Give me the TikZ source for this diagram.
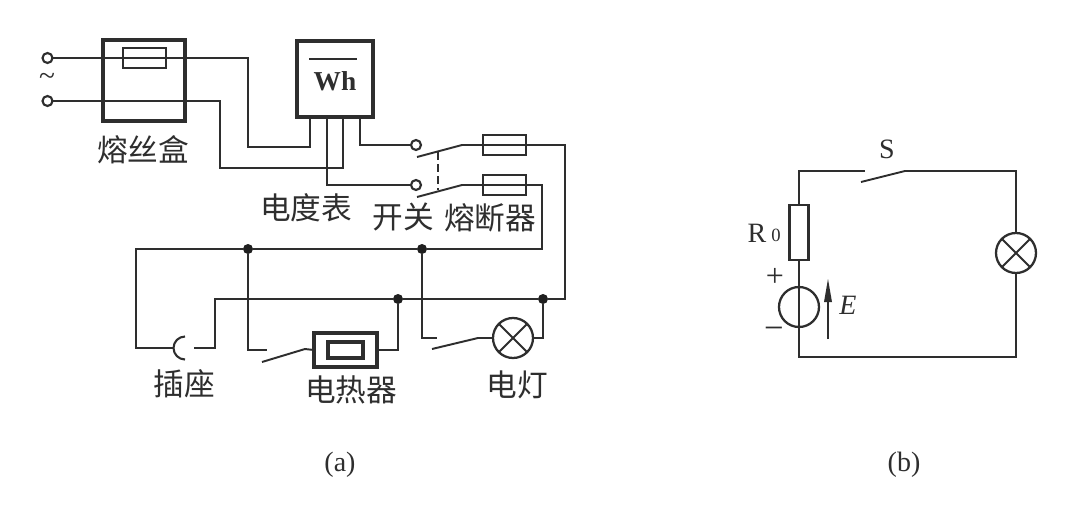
\documentclass[tikz,border=0pt]{standalone}
\usepackage{fontspec}
\setmainfont{Liberation Serif}
\newfontfamily\cjkf{Noto Sans CJK SC}
\definecolor{ink}{HTML}{2E2E2E}
\tikzset{
  wire/.style={draw=ink,line width=1.55pt,line join=miter},
  thick box/.style={draw=ink,line width=2.8pt,inner sep=0pt,outer sep=0pt,rectangle},
  boxsize/.style 2 args={minimum width=#1*0.75pt,minimum height=#2*0.75pt},
  thin box/.style={draw=ink,line width=1.9pt,inner sep=0pt,outer sep=0pt,rectangle},
  terminal/.style={draw=ink,line width=1.6pt,circle,fill=white,inner sep=0pt,outer sep=0pt,minimum size=7.5pt},
  junction/.style={fill=ink!70!black,circle,inner sep=0pt,outer sep=0pt,minimum size=7.5pt},
  lampnode/.style={draw=ink,line width=1.7pt,circle,inner sep=0pt,outer sep=0pt,minimum size=30pt},
  cjklabel/.style={text=ink,inner sep=0pt,font=\cjkf\fontsize{23}{25}\selectfont},
  latin/.style={text=ink,inner sep=0pt,font=\fontsize{21}{24}\selectfont},
  blade/.style={draw=ink,line width=1.45pt},
}
\begin{document}
\begin{tikzpicture}[x=0.75pt,y=-0.75pt]
\path[use as bounding box,fill=white] (0,0) rectangle (1078,510);

%% ---------- (a): supply and fuse box
\node[terminal] (t1) at (47.5,58) {};
\node[terminal] (t2) at (47.5,101) {};
\node[latin,font=\fontsize{22}{24}\selectfont] (tilde) at (47,79) {\textasciitilde};
\node[thick box,boxsize={82}{81}] (fbox) at (144,80.5) {};
\node[thin box,boxsize={43}{20}] (ffuse) at (144.5,58) {};
\node[cjklabel] (lfbox) at (143,150) {熔丝盒};

%% meter
\node[thick box,boxsize={76}{76}] (meter) at (335,79) {};
\node[latin,font=\bfseries\fontsize{20.5}{24}\selectfont] (wh) at (335,81) {Wh};
\coordinate (barL) at (309,59);
\coordinate (barR) at (357,59);
\draw[wire] (barL) -- (barR);
\node[cjklabel] (lmeter) at (306,208) {电度表};

\coordinate (m1) at (310,117);
\coordinate (m2) at (327,117);
\coordinate (m3) at (343,117);
\coordinate (m4) at (360,117);

%% switch
\node[terminal] (s1) at (416,145) {};
\node[terminal] (s2) at (416,185) {};
\coordinate (b1a) at (417,157);
\coordinate (b1b) at (462,145);
\coordinate (b2a) at (417,197);
\coordinate (b2b) at (462,185);
\coordinate (dash1) at (438,152);
\coordinate (dash2) at (438,190);
\node[thin box,boxsize={43}{20}] (f1) at (504.5,145) {};
\node[thin box,boxsize={43}{20}] (f2) at (504.5,185) {};
\node[cjklabel] (lsw) at (403,217) {开关};
\node[cjklabel] (lfuse) at (490,218) {熔断器};

%% mains junctions
\node[junction] (j1) at (248,249) {};
\node[junction] (j2) at (422,249) {};
\node[junction] (j3) at (398,299) {};
\node[junction] (j4) at (543,299) {};

%% socket
\coordinate (sockL) at (173.5,348);
\coordinate (sockR) at (194,348);
\coordinate (sockTop) at (185,336.5);
\node[cjklabel] (lsock) at (184,384) {插座};

%% heater
\node[thick box,boxsize={63}{34}] (heat) at (345.5,350) {};
\node[thick box,boxsize={35}{16}] (heatin) at (345.5,350) {};
\coordinate (hs) at (267,350);
\coordinate (hba) at (262,362);
\coordinate (hbb) at (305,349);
\node[cjklabel] (lheat) at (351,390) {电热器};

%% lamp
\node[lampnode] (lamp) at (513,338) {};
\draw[blade] (lamp.45) -- (lamp.225) (lamp.135) -- (lamp.315);
\coordinate (ls) at (437,338);
\coordinate (lba) at (432,349);
\coordinate (lbb) at (478,338);
\node[cjklabel] (llamp) at (517,385) {电灯};

%% wires (a)
\draw[wire] (t1) -- (ffuse.west) -- (ffuse.east) -- (248,58) -- (248,147) -- (310,147) -- (m1);
\draw[wire] (t2) -- (220,101) -- (220,168) -- (343,168) -- (m3);
\draw[wire] (m2) -- (327,185) -- (s2);
\draw[wire] (m4) -- (360,145) -- (s1);
\draw[blade] (b1a) -- (b1b) -- (f1.west) -- (f1.east) -- (565,145) -- (565,299) -- (j4);
\draw[blade] (b2a) -- (b2b) -- (f2.west) -- (f2.east) -- (542,185) -- (542,249) -- (j2);
\draw[wire,dash pattern=on 6pt off 3pt] (dash1) -- (dash2);
\draw[wire] (j2) -- (j1) -- (136,249) -- (136,348) -- (sockL);
\draw[wire] (sockTop) arc[start angle=270,end angle=90,radius=11.5];
\draw[wire] (sockR) -- (215,348) -- (215,299) -- (j3);
\draw[wire] (j3) -- (j4);
\draw[wire] (j1) -- (248,350) -- (hs);
\draw[blade] (hba) -- (hbb) -- (heat.west);
\draw[wire] (heat.east) -- (398,350) -- (j3);
\draw[wire] (j2) -- (422,338) -- (ls);
\draw[blade] (lba) -- (lbb) -- (lamp.west);
\draw[wire] (lamp.east) -- (543,338) -- (j4);

\node[latin] (capa) at (340,465) {(a)};

%% ---------- (b)
\node[thin box,boxsize={19}{55}] (r0) at (799,232.5) {};
\node[lampnode] (lampb) at (1016,253) {};
\draw[blade] (lampb.45) -- (lampb.225) (lampb.135) -- (lampb.315);
\node[draw=ink,line width=1.7pt,circle,inner sep=0pt,outer sep=0pt,minimum size=30pt] (src) at (799,307) {};
\coordinate (sa) at (865,171);
\coordinate (sba) at (861,182);
\coordinate (sbb) at (905,171);
\coordinate (tl) at (799,171);
\coordinate (tr) at (1016,171);
\coordinate (bl) at (799,357);
\coordinate (br) at (1016,357);
\draw[wire] (r0.north) -- (tl) -- (sa);
\draw[blade] (sba) -- (sbb) -- (tr) -- (lampb.north);
\draw[wire] (lampb.south) -- (br) -- (bl) -- (src.north) -- (r0.south);
\coordinate (ea) at (828,339);
\coordinate (eb) at (828,279);
\draw[wire] (ea) -- (828,300);
\path[fill=ink] (eb) -- (832,302) -- (824,302) -- cycle;
\node[latin] (ll) at (757,233) {R};
\node[latin,font=\fontsize{14}{16}\selectfont] (zero) at (776,235) {0};
\node[latin,font=\fontsize{24}{26}\selectfont] (plus) at (775,277) {+};
\node[latin,font=\fontsize{26}{28}\selectfont] (minus) at (774,333) {\textminus};
\node[latin,font=\itshape\fontsize{21}{24}\selectfont] (emf) at (848,305) {E};
\node[latin] (sl) at (887,149) {S};
\node[latin] (capb) at (904,465) {(b)};
\end{tikzpicture}
\end{document}
